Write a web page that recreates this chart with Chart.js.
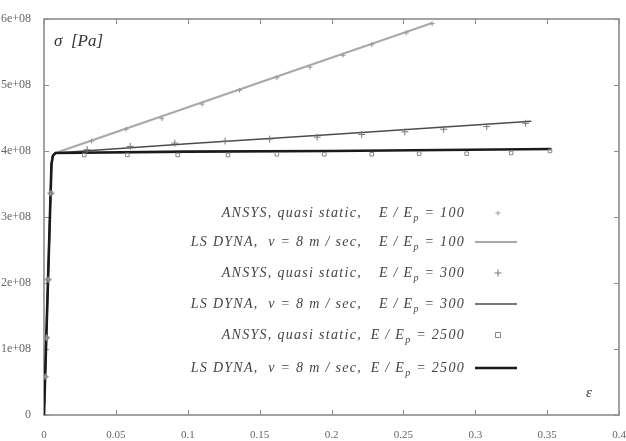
<!DOCTYPE html>
<html lang="en">
<head>
<meta charset="UTF-8">
<title>Stress - strain, ANSYS vs LS DYNA</title>
<script src="https://cdn.jsdelivr.net/npm/chart.js"></script>
<style>
  body { margin: 0; background: #fff; }
  canvas { display: block; }
</style>
</head>
<body>
<canvas id="stressChart" width="626" height="441"></canvas>
<script>
// ANSYS quasi static (markers), E / Ep = 100, 300, 2500
const ansys100Strain = [0.0008, 0.0017, 0.0029, 0.0048, 0.033, 0.057, 0.082, 0.110, 0.136, 0.162, 0.185, 0.208, 0.228, 0.252, 0.270];
const ansys100Stress = [0.58e8, 1.17e8, 2.05e8, 3.36e8, 4.15e8, 4.33e8, 4.49e8, 4.71e8, 4.92e8, 5.11e8, 5.27e8, 5.45e8, 5.61e8, 5.79e8, 5.93e8];
const ansys300Strain = [0.0008, 0.0017, 0.0029, 0.0048, 0.030, 0.060, 0.091, 0.126, 0.157, 0.190, 0.221, 0.251, 0.278, 0.308, 0.335];
const ansys300Stress = [0.58e8, 1.17e8, 2.05e8, 3.36e8, 4.02e8, 4.07e8, 4.12e8, 4.15e8, 4.18e8, 4.21e8, 4.25e8, 4.29e8, 4.33e8, 4.37e8, 4.42e8];
const ansys2500Strain = [0.0008, 0.0017, 0.0029, 0.0048, 0.028, 0.058, 0.093, 0.128, 0.162, 0.195, 0.228, 0.261, 0.294, 0.325, 0.352];
const ansys2500Stress = [0.58e8, 1.17e8, 2.05e8, 3.36e8, 3.94e8, 3.94e8, 3.94e8, 3.94e8, 3.95e8, 3.95e8, 3.95e8, 3.96e8, 3.96e8, 3.97e8, 4.0e8];

// LS DYNA, v = 8 m/sec (lines)
const dyna100Strain = [0, 0.0052, 0.0062, 0.0080, 0.270];
const dyna100Stress = [0, 3.80e8, 3.93e8, 3.97e8, 5.94e8];
const dyna300Strain = [0, 0.0052, 0.0062, 0.0080, 0.100, 0.200, 0.339];
const dyna300Stress = [0, 3.80e8, 3.93e8, 3.97e8, 4.11e8, 4.25e8, 4.45e8];
const dyna2500Strain = [0, 0.0052, 0.0062, 0.0080, 0.100, 0.200, 0.353];
const dyna2500Stress = [0, 3.80e8, 3.93e8, 3.97e8, 3.99e8, 4.00e8, 4.03e8];

const legendLeft = ['ANSYS, quasi static,', 'LS DYNA,  v = 8 m / sec,', 'ANSYS, quasi static,', 'LS DYNA,  v = 8 m / sec,', 'ANSYS, quasi static,', 'LS DYNA,  v = 8 m / sec,'];
const legendRatio = ['100', '100', '300', '300', '2500', '2500'];

const xTicks = [0, 0.05, 0.1, 0.15, 0.2, 0.25, 0.3, 0.35, 0.4];
const yTicks = [0, 1e8, 2e8, 3e8, 4e8, 5e8, 6e8];

function pts(xs, ys) {
  return xs.map((v, i) => ({ x: v, y: ys[i] }));
}

const serif = '"Liberation Serif", "DejaVu Serif", serif';

const framePlugin = {
  id: 'frame',
  beforeDatasetsDraw(chart) {
    const { ctx, chartArea: a, scales: { x, y } } = chart;
    ctx.save();
    ctx.strokeStyle = '#8c8c8c';
    ctx.lineWidth = 1;
    xTicks.forEach(v => {
      const px = Math.round(x.getPixelForValue(v)) + 0.5;
      ctx.beginPath();
      ctx.moveTo(px, a.bottom); ctx.lineTo(px, a.bottom - 5);
      ctx.moveTo(px, a.top); ctx.lineTo(px, a.top + 5);
      ctx.stroke();
    });
    yTicks.forEach(v => {
      const py = Math.round(y.getPixelForValue(v)) + 0.5;
      ctx.beginPath();
      ctx.moveTo(a.left, py); ctx.lineTo(a.left + 5, py);
      ctx.moveTo(a.right, py); ctx.lineTo(a.right - 5, py);
      ctx.stroke();
    });
    ctx.lineWidth = 1.6;
    ctx.strokeRect(a.left, a.top, a.right - a.left, a.bottom - a.top);
    ctx.restore();
  },
  afterDraw(chart) {
    const { ctx, chartArea: a } = chart;
    ctx.save();
    ctx.fillStyle = '#333';
    ctx.textBaseline = 'middle';

    // axis titles inside the frame
    ctx.font = 'italic 17px ' + serif;
    ctx.textAlign = 'left';
    ctx.fillText('σ  [Pa]', a.left + 10, a.top + 23);
    ctx.font = 'italic 15px ' + serif;
    ctx.fillText('ε', a.right - 33, a.bottom - 22);

    // legend
    const rowY = [213, 242, 273, 304, 335, 368];
    const textRight = 465;
    const leftRight = 362;
    ctx.letterSpacing = '1.3px';
    chart.data.datasets.forEach((ds, i) => {
      const yy = rowY[i];
      ctx.fillStyle = '#444';
      ctx.font = 'italic 14px ' + serif;
      ctx.textAlign = 'right';
      ctx.fillText(legendLeft[i], leftRight, yy);

      const p1 = 'E / E';
      const p3 = ' = ' + legendRatio[i];
      const w1 = ctx.measureText(p1).width;
      const w3 = ctx.measureText(p3).width;
      ctx.font = 'italic 10px ' + serif;
      const w2 = ctx.measureText('p').width;
      let sx = textRight - (w1 + w2 + w3);
      ctx.textAlign = 'left';
      ctx.font = 'italic 14px ' + serif;
      ctx.fillText(p1, sx, yy);
      ctx.font = 'italic 10px ' + serif;
      ctx.fillText('p', sx + w1, yy + 5);
      ctx.font = 'italic 14px ' + serif;
      ctx.fillText(p3, sx + w1 + w2, yy);

      if (ds.showLine) {
        ctx.strokeStyle = ds.borderColor;
        ctx.lineWidth = ds.borderWidth;
        ctx.beginPath();
        ctx.moveTo(475, yy); ctx.lineTo(517, yy);
        ctx.stroke();
      } else {
        ctx.strokeStyle = ds.pointBorderColor;
        ctx.lineWidth = 1;
        const r = ds.pointRadius;
        ctx.beginPath();
        if (ds.pointStyle === 'rect') {
          ctx.rect(498 - r, yy - r, 2 * r, 2 * r);
        } else {
          ctx.moveTo(498 - r, yy); ctx.lineTo(498 + r, yy);
          ctx.moveTo(498, yy - r); ctx.lineTo(498, yy + r);
        }
        ctx.stroke();
      }
    });
    ctx.restore();
  }
};

new Chart(document.getElementById('stressChart'), {
  type: 'scatter',
  data: {
    datasets: [
      { label: 'ANSYS 100', data: pts(ansys100Strain, ansys100Stress), showLine: false,
        pointStyle: 'cross', pointRadius: 2.5, pointBorderColor: '#999', pointBorderWidth: 1, order: 1 },
      { label: 'LS DYNA 100', data: pts(dyna100Strain, dyna100Stress), showLine: true,
        borderColor: '#a9a9a9', borderWidth: 2, pointRadius: 0, order: 4 },
      { label: 'ANSYS 300', data: pts(ansys300Strain, ansys300Stress), showLine: false,
        pointStyle: 'cross', pointRadius: 3.5, pointBorderColor: '#777', pointBorderWidth: 1, order: 1 },
      { label: 'LS DYNA 300', data: pts(dyna300Strain, dyna300Stress), showLine: true,
        borderColor: '#4d4d4d', borderWidth: 1.6, pointRadius: 0, order: 3 },
      { label: 'ANSYS 2500', data: pts(ansys2500Strain, ansys2500Stress), showLine: false,
        pointStyle: 'rect', pointRadius: 2.5, pointBorderColor: '#888', pointBackgroundColor: 'rgba(0,0,0,0)', pointBorderWidth: 1, order: 1 },
      { label: 'LS DYNA 2500', data: pts(dyna2500Strain, dyna2500Stress), showLine: true,
        borderColor: '#1a1a1a', borderWidth: 2.6, pointRadius: 0, order: 2 }
    ]
  },
  options: {
    responsive: false,
    animation: false,
    layout: { padding: { top: 19, right: 7, left: 0, bottom: 0 } },
    plugins: { legend: { display: false }, tooltip: { enabled: false } },
    scales: {
      x: {
        type: 'linear', min: 0, max: 0.4,
        afterBuildTicks: s => { s.ticks = xTicks.map(v => ({ value: v })); },
        afterFit: s => { s.height = 26; s.paddingLeft = 0; s.paddingRight = 0; },
        grid: { display: false }, border: { display: false },
        ticks: { padding: 6, color: '#666', font: { family: serif, size: 11 }, maxRotation: 0,
          callback: v => String(+v.toFixed(2)) }
      },
      y: {
        type: 'linear', min: 0, max: 6e8,
        afterBuildTicks: s => { s.ticks = yTicks.map(v => ({ value: v })); },
        afterFit: s => { s.width = 44; s.paddingTop = 0; s.paddingBottom = 0; },
        grid: { display: false }, border: { display: false },
        ticks: { padding: 5, color: '#666', font: { family: serif, size: 12 },
          callback: v => v === 0 ? '0' : v.toExponential(0).replace('e+', 'e+0') }
      }
    }
  },
  plugins: [framePlugin]
});
</script>
</body>
</html>
